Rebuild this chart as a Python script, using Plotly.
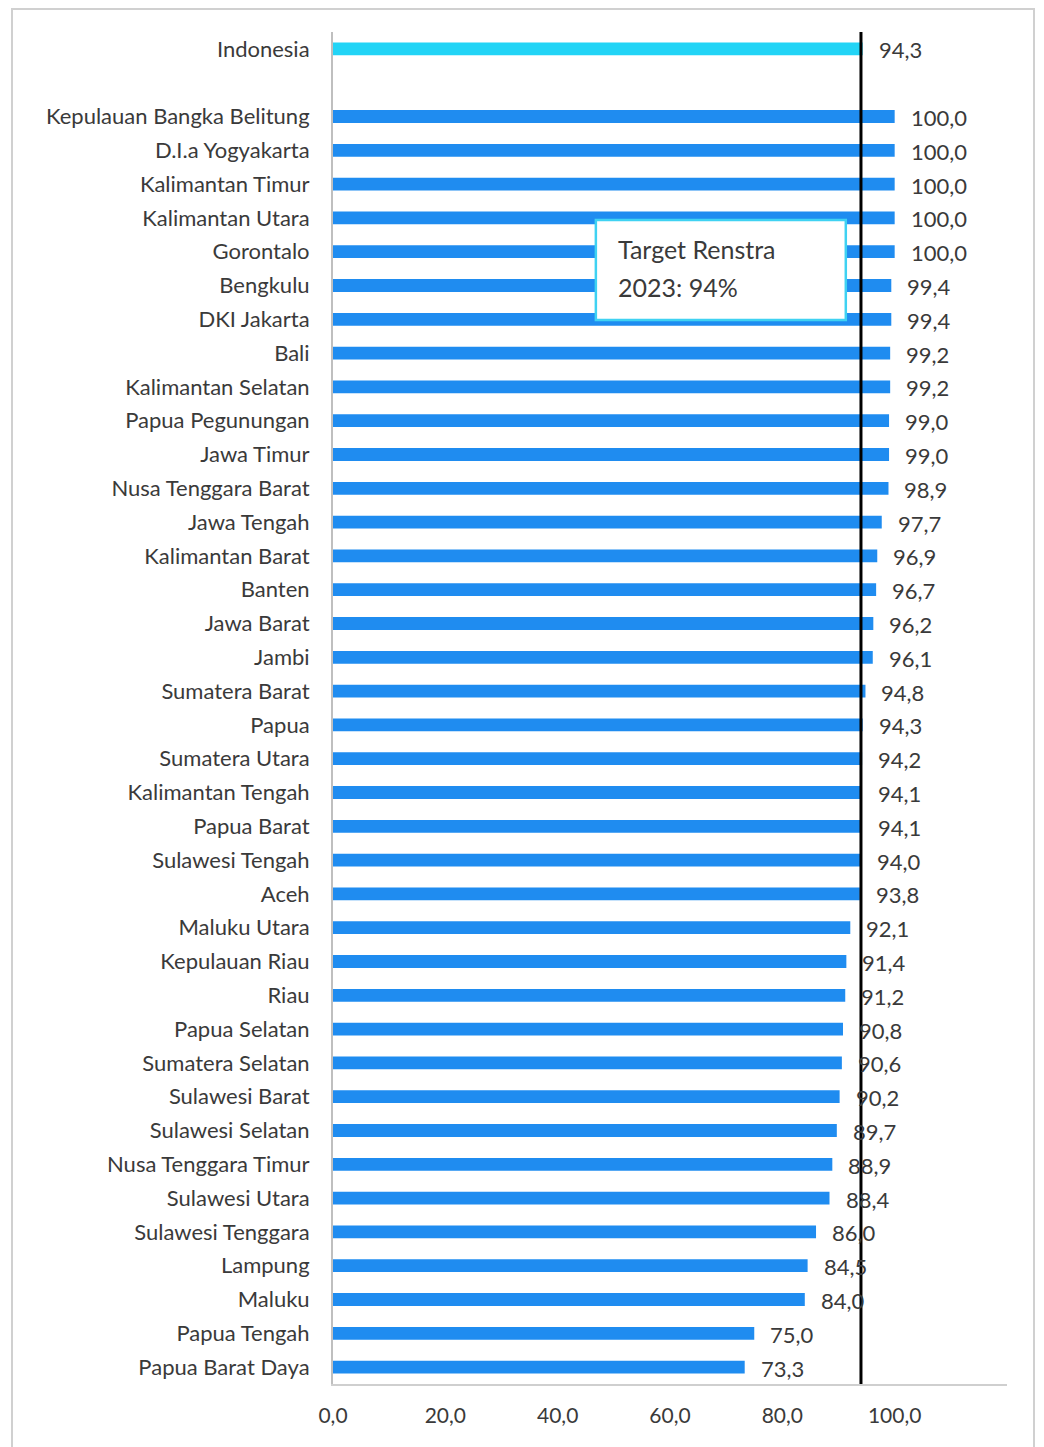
import plotly.graph_objects as go

national_name = "Indonesia"
national_value = 94.3

provinces = [
    "Kepulauan Bangka Belitung", "D.I.a Yogyakarta", "Kalimantan Timur", "Kalimantan Utara",
    "Gorontalo", "Bengkulu", "DKI Jakarta", "Bali", "Kalimantan Selatan", "Papua Pegunungan",
    "Jawa Timur", "Nusa Tenggara Barat", "Jawa Tengah", "Kalimantan Barat", "Banten",
    "Jawa Barat", "Jambi", "Sumatera Barat", "Papua", "Sumatera Utara", "Kalimantan Tengah",
    "Papua Barat", "Sulawesi Tengah", "Aceh", "Maluku Utara", "Kepulauan Riau", "Riau",
    "Papua Selatan", "Sumatera Selatan", "Sulawesi Barat", "Sulawesi Selatan",
    "Nusa Tenggara Timur", "Sulawesi Utara", "Sulawesi Tenggara", "Lampung", "Maluku",
    "Papua Tengah", "Papua Barat Daya",
]
values = [
    100.0, 100.0, 100.0, 100.0, 100.0, 99.4, 99.4, 99.2, 99.2, 99.0,
    99.0, 98.9, 97.7, 96.9, 96.7, 96.2, 96.1, 94.8, 94.3, 94.2, 94.1,
    94.1, 94.0, 93.8, 92.1, 91.4, 91.2, 90.8, 90.6, 90.2, 89.7,
    88.9, 88.4, 86.0, 84.5, 84.0, 75.0, 73.3,
]
target = 94
target_text = ["Target Renstra", "2023: 94%"]
x_ticks = [0, 20, 40, 60, 80, 100]

FONT = "Lato"
TXT = "#3A3A3A"

nat_pos = [0]
prov_pos = [i + 2 for i in range(len(provinces))]

fig = go.Figure()
fig.add_trace(go.Bar(
    x=[national_value], y=nat_pos, orientation="h",
    marker=dict(color="#22D4F6", line=dict(width=0)), width=0.38,
    hoverinfo="skip",
))
fig.add_trace(go.Bar(
    x=values, y=prov_pos, orientation="h",
    marker=dict(color="#1F8CF0", line=dict(width=0)), width=0.38,
    hoverinfo="skip",
))

for v, p in zip([national_value] + values, nat_pos + prov_pos):
    fig.add_annotation(
        x=v, y=p, xref="x", yref="y", text=f"{v:.1f}".replace(".", ","),
        showarrow=False, xanchor="left", yanchor="middle", xshift=14, yshift=-1,
        font=dict(family=FONT, size=22, color=TXT),
    )

# target line
fig.add_shape(type="line", xref="x", yref="paper", x0=target, x1=target, y0=0, y1=1,
              line=dict(color="black", width=3), layer="above")

# annotation box
fig.add_shape(type="rect", xref="x", yref="paper", x0=46.8, x1=91.3, y0=0.787, y1=0.861,
              line=dict(color="#3FD2F2", width=2.5), fillcolor="white", layer="above")
fig.add_annotation(x=50.3, y=0.8395, xref="x", yref="paper", text=target_text[0],
                   showarrow=False, xanchor="left", yanchor="middle",
                   font=dict(family=FONT, size=25, color=TXT))
fig.add_annotation(x=50.3, y=0.8114, xref="x", yref="paper", text=target_text[1],
                   showarrow=False, xanchor="left", yanchor="middle",
                   font=dict(family=FONT, size=25, color=TXT))

# outer frame (picture border)
fig.add_shape(type="rect", xref="paper", yref="paper",
              x0=(12 - 333) / 674, x1=(1034 - 333) / 674,
              y0=(1384 - 1460) / 1352, y1=1 + 23 / 1352,
              line=dict(color="#D0D0D0", width=2), layer="below")

fig.update_layout(
    width=1044, height=1447,
    margin=dict(l=325, r=45, t=24, b=71),
    paper_bgcolor="white", plot_bgcolor="white",
    showlegend=False, separators=", ",
    font=dict(family=FONT, size=22, color=TXT),
)
fig.update_xaxes(
    range=[0, 120], tickvals=x_ticks, tickformat=".1f",
    showgrid=False, zeroline=False,
    showline=True, linecolor="#CFCFCF", linewidth=2,
    ticks="outside", ticklen=12, tickcolor="rgba(0,0,0,0)",
    tickfont=dict(family=FONT, size=21, color=TXT),
)
fig.update_yaxes(
    range=[39.5, -0.5], tickvals=nat_pos + prov_pos, ticktext=[national_name] + provinces,
    showgrid=False, zeroline=False,
    showline=True, linecolor="#BFBFBF", linewidth=2,
    ticks="outside", ticklen=17, tickcolor="rgba(0,0,0,0)",
    tickfont=dict(family=FONT, size=22, color=TXT),
)

fig.write_html("out.html")
